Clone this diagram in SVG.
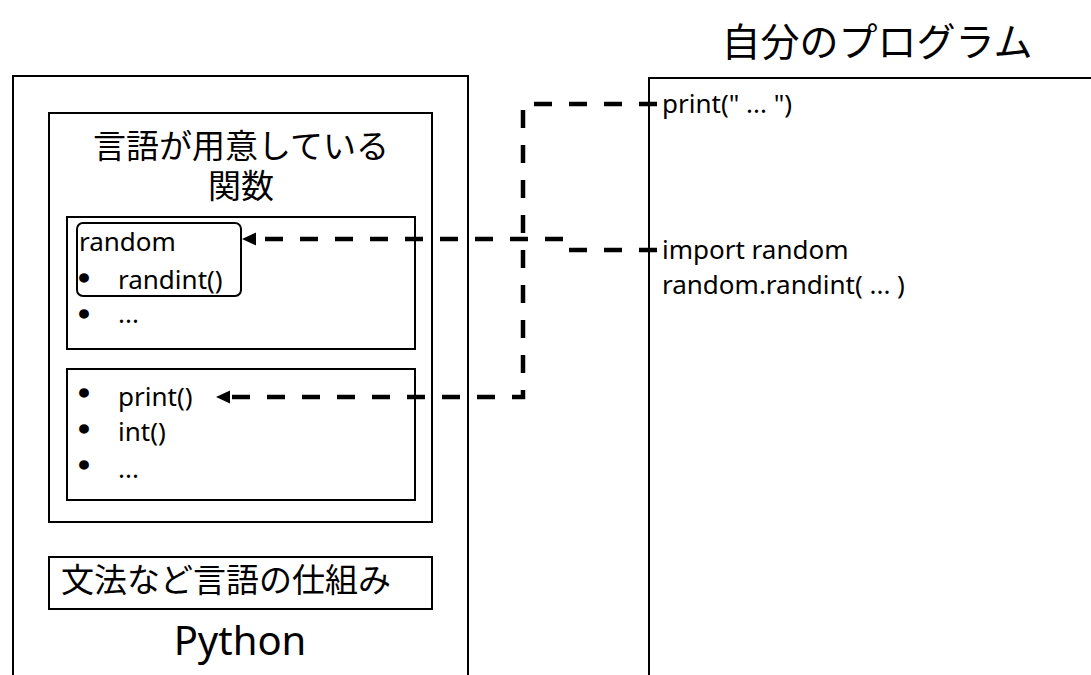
<svg xmlns="http://www.w3.org/2000/svg" width="1091" height="675" viewBox="0 0 1091 675">
  <defs>
    <style>
      .box { fill: #ffffff; stroke: #000000; stroke-width: 2; }
      .jp { font-family: "Noto Sans CJK JP", "Noto Sans", sans-serif; fill: #000000; }
      .en { font-family: "Noto Sans", "Open Sans", sans-serif; font-size: 26px; fill: #000000; }
      .bullet { font-family: "Liberation Sans", Arial, sans-serif; font-size: 30px; fill: #000000; stroke: #000000; stroke-width: 1.6; text-anchor: middle; }
      .link { fill: none; stroke: #000000; stroke-width: 4.5; stroke-dasharray: 18 17; }
    </style>
    <marker id="arrow" markerUnits="userSpaceOnUse" markerWidth="16" markerHeight="14" refX="0" refY="6.5" orient="auto" overflow="visible">
      <path d="M0,0 L14,6.5 L0,13 Z" fill="#000000"/>
    </marker>
  </defs>

  <rect width="1091" height="675" fill="#ffffff"/>

  <!-- Python language box -->
  <g id="python">
    <rect class="box" x="13" y="76" width="455" height="640"/>
    <text class="en" x="240" y="655" text-anchor="middle" style="font-size:40px">Python</text>
  </g>

  <!-- built-in functions area -->
  <g id="builtin-functions">
    <rect class="box" x="49" y="113" width="383" height="409"/>
    <text class="jp" font-size="33" text-anchor="middle"><tspan x="241" y="158">言語が用意している</tspan><tspan x="241" y="198">関数</tspan></text>
  </g>

  <!-- modules list -->
  <g id="modules">
    <rect class="box" x="67" y="217" width="348" height="132"/>
    <text class="bullet" x="84" y="324">•</text>
    <text class="en" x="118" y="323">...</text>
  </g>

  <!-- random module -->
  <g id="random-module">
    <rect class="box" x="77" y="223" width="164" height="73" rx="6" ry="6"/>
    <text class="en" x="79" y="251">random</text>
    <text class="bullet" x="84" y="288">•</text>
    <text class="en" x="118" y="289">randint()</text>
  </g>

  <!-- builtin function list -->
  <g id="builtins">
    <rect class="box" x="67" y="369" width="348" height="131"/>
    <text class="bullet" x="84" y="403">•</text>
    <text class="en" x="118" y="406">print()</text>
    <text class="bullet" x="84" y="439">•</text>
    <text class="en" x="118" y="441">int()</text>
    <text class="bullet" x="84" y="475">•</text>
    <text class="en" x="118" y="478">...</text>
  </g>

  <!-- syntax and language mechanics -->
  <g id="syntax">
    <rect class="box" x="49" y="557" width="383" height="52"/>
    <text class="jp" x="61" y="592" font-size="33">文法など言語の仕組み</text>
  </g>

  <!-- user program -->
  <g id="my-program">
    <text class="jp" x="877" y="56" font-size="39" text-anchor="middle">自分のプログラム</text>
    <rect class="box" x="649" y="78" width="460" height="640"/>
    <text class="en" x="662" y="113">print(" ... ")</text>
    <text class="en" x="662" y="259">import random</text>
    <text class="en" x="662" y="294">random.randint( ... )</text>
  </g>

  <!-- connectors -->
  <g id="connectors">
    <path class="link" d="M657,104 H523 V397 H230" marker-end="url(#arrow)"/>
    <path class="link" d="M657,250 H566 V239 H256" marker-end="url(#arrow)"/>
  </g>
</svg>
